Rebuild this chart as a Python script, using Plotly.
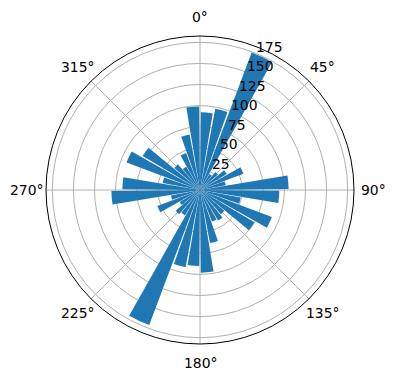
import math
import plotly.graph_objects as go

# bar centres (degrees, clockwise from north) and bar heights
directions = [5, 15, 25, 35, 45, 55, 65, 75, 85, 95, 105, 115,
              125, 135, 145, 155, 165, 175, 185, 195, 205, 215, 225, 235,
              245, 255, 265, 275, 285, 295, 305, 315, 325, 335, 345, 355]
counts = [92, 98, 174, 22, 28, 37, 55, 31, 105, 94, 49, 91,
          75, 38, 42, 40, 64, 98, 90, 93, 171, 35, 38, 28,
          54, 35, 105, 92, 45, 93, 79, 40, 32, 47, 67, 99]
bar_width = 8.8

radial_ticks = [25, 50, 75, 100, 125, 150, 175]
radial_labels = [str(t) for t in radial_ticks]
radial_max = 182.5
label_direction = 22.5  # radial tick labels sit along this bearing
angular_ticks = [0, 45, 90, 135, 180, 225, 270, 315]
angular_labels = [f"{a}°" for a in angular_ticks]

W, H = 396, 380
ML, MR, MT, MB = 46, 42, 36, 36
side = W - ML - MR  # square polar area (308 px)
FONT = dict(family="DejaVu Sans", size=13.9, color="black")


def paper_xy(frac, bearing_rad):
    """Polar position (fraction of radius, bearing clockwise from north) -> paper."""
    return 0.5 + 0.5 * frac * math.sin(bearing_rad), 0.5 + 0.5 * frac * math.cos(bearing_rad)


annotations = []
# radial tick labels: outward and slightly clockwise of each ring
along, across = 13.0, 10.7
for t, txt in zip(radial_ticks, radial_labels):
    frac = math.hypot(t + along, across) / radial_max
    th = math.radians(label_direction) + math.atan2(across, t + along)
    xp, yp = paper_xy(frac, th)
    annotations.append(dict(x=xp, y=yp, xref="paper", yref="paper", text=txt,
                            showarrow=False, xanchor="center", yanchor="middle",
                            font=FONT))
# angular tick labels, centred just outside the rim
label_frac = 1.126
for a, txt in zip(angular_ticks, angular_labels):
    xp, yp = paper_xy(label_frac, math.radians(a))
    annotations.append(dict(x=xp, y=yp, xref="paper", yref="paper", text=txt,
                            showarrow=False, xanchor="center", yanchor="middle",
                            font=FONT))

fig = go.Figure()
fig.add_trace(go.Barpolar(
    r=counts,
    theta=directions,
    width=[bar_width] * len(directions),
    marker=dict(color="#1f77b4", line=dict(width=0)),
    opacity=1,
    hoverinfo="r+theta",
))

grid = "#b0b0b0"
fig.update_layout(
    width=W, height=H,
    margin=dict(l=ML, r=MR, t=MT, b=MB),
    paper_bgcolor="white",
    showlegend=False,
    font=FONT,
    annotations=annotations,
    polar=dict(
        domain=dict(x=[0, 1], y=[0, 1]),
        bgcolor="white",
        bargap=0,
        angularaxis=dict(
            rotation=90, direction="clockwise",
            tickvals=angular_ticks,
            showgrid=True, gridcolor=grid, gridwidth=0.8,
            showline=True, linecolor="black", linewidth=1,
            ticks="", showticklabels=False,
        ),
        radialaxis=dict(
            range=[0, radial_max],
            tickvals=radial_ticks,
            angle=90 - label_direction,
            showgrid=True, gridcolor=grid, gridwidth=0.8,
            showline=False, ticks="", showticklabels=False,
        ),
    ),
)

fig.write_html("out.html")
